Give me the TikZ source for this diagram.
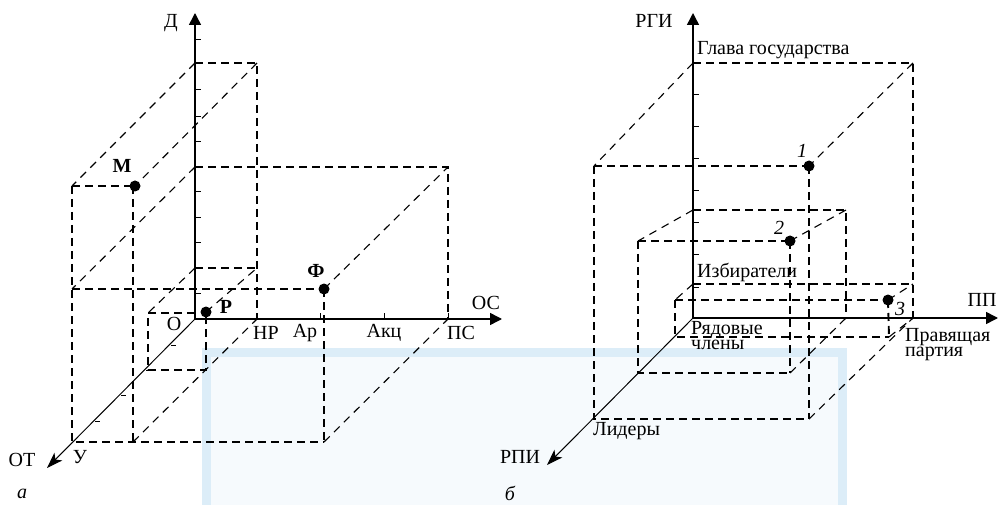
\documentclass[tikz,border=0pt]{standalone}
\usepackage{fontspec}
\setmainfont{Liberation Serif}
\usetikzlibrary{arrows.meta}
\definecolor{wmband}{RGB}{220,237,248}
\definecolor{wmfill}{RGB}{246,250,253}
\tikzset{
 ortho/.style={line width=1.9pt, dash pattern=on 8pt off 5pt},
 obl/.style={line width=1.1pt, dash pattern=on 8pt off 6pt},
 axisline/.style={line width=1.5pt, -{Triangle[length=12pt,width=12pt]}},
 oblaxis/.style={line width=1pt, -{Stealth[length=16pt,width=11pt,inset=4pt]}},
 tickmark/.style={line width=1pt},
 lbl/.style={font=\fontsize{20}{15}\selectfont, inner sep=0pt},
 blbl/.style={font=\fontsize{20}{15}\selectfont\bfseries, inner sep=0pt},
 ilbl/.style={font=\fontsize{20}{15}\selectfont\itshape, inner sep=0pt},
 dotp/.style={circle, fill, inner sep=0pt, minimum size=11pt},
}
\begin{document}
\begin{tikzpicture}[x=1pt,y=-1pt]
\useasboundingbox (0,0) rectangle (999,505);
% faint background frame
\begin{scope}
\clip (0,0) rectangle (999,505);
\fill[wmfill] (202,348) rectangle (847,520);
\draw[wmband, line width=9pt] (206.5,352.5) rectangle (842,530);
\end{scope}

% ================= LEFT (a) =================
\coordinate (O1) at (195,319);
\coordinate (Dtip) at (195,13);
\coordinate (OCtip) at (502,319);
\coordinate (OTtip) at (47,468);
\coordinate (A1) at (195,63);
\coordinate (A2) at (257,63);
\coordinate (A3) at (257,319);
\coordinate (M0) at (72,186);
\coordinate (Mv) at (133,186);
\coordinate (U) at (72,442);
\coordinate (MB) at (133,442);
\coordinate (FB) at (324,442);
\coordinate (D167) at (195,167);
\coordinate (L289) at (72,289);
\coordinate (C1) at (448,167);
\coordinate (PS) at (448,319);
\coordinate (PL) at (195,268);
\coordinate (PR) at (257,268);
\coordinate (Q1) at (148,313);
\coordinate (Q2) at (195,313);
\coordinate (Q3) at (148,370);
\coordinate (Q4) at (206,370);

\node[dotp] (M) at (135,186) {};
\node[dotp] (F) at (324,289) {};
\node[dotp] (P) at (206,312) {};

% dashed frame lines
\draw[ortho] (A1) -- (A2) -- (A3);
\draw[obl] (A1) -- (M0);
\draw[obl] (A2) -- (M.center);
\draw[ortho] (M0) -- (M.center);
\draw[ortho] (M0) -- (U) -- (FB);
\draw[ortho] (Mv) -- (MB);
\draw[obl] (D167) -- (L289);
\draw[ortho] (L289) -- (F.center);
\draw[ortho] (D167) -- (C1) -- (PS);
\draw[obl] (F.center) -- (C1);
\draw[ortho] (F.center) -- (FB);
\draw[obl] (FB) -- (PS);
\draw[obl] (MB) -- (A3);
\draw[ortho] (PL) -- (PR);
\draw[obl] (P.center) -- (PR);
\draw[obl] (PL) -- (Q1);
\draw[ortho] (Q2) -- (Q1) -- (Q3) -- (Q4) -- (P.center);

% axes
\draw[axisline] (O1) -- (Dtip);
\draw[axisline] (O1) -- (OCtip);
\draw[oblaxis] (O1) -- (OTtip);
\foreach \yy in {40,90,117,142,167,192,218,243,268,293}
  \draw[tickmark] (195,\yy) -- (201,\yy);
\foreach \xx in {257,320,384,448}
  \draw[tickmark] (\xx,319) -- (\xx,313);
\foreach \yy in {345,370,395,421}
  \draw[tickmark] ({197-(\yy-319)},\yy) -- ({202-(\yy-319)},\yy);

% labels
\node[lbl] (tD) at (171,23) {Д};
\node[blbl] (tM) at (122,166) {М};
\node[blbl] (tF) at (316,271) {Ф};
\node[blbl] (tP) at (226,307) {Р};
\node[lbl] (tO) at (174,324) {О};
\node[lbl] (tOC) at (486,303) {ОС};
\node[lbl] (tHP) at (266,333) {НР};
\node[lbl] (tAp) at (305,333) {Ар};
\node[lbl] (tAk) at (384,333) {Акц};
\node[lbl] (tPS) at (461,333) {ПС};
\node[lbl] (tOT) at (22,460) {ОТ};
\node[lbl] (tU) at (80,457) {У};
\node[ilbl] (ta) at (22,494) {а};

% ================= RIGHT (b) =================
\coordinate (O2) at (693,318);
\coordinate (RGtip) at (693,13);
\coordinate (PPtip) at (998,318);
\coordinate (RPtip) at (547,465);
\coordinate (B1) at (693,63);
\coordinate (B2) at (913,63);
\coordinate (B3) at (913,318);
\coordinate (B4) at (594,166);
\coordinate (B5) at (594,419);
\coordinate (B6) at (809,419);
\coordinate (C1r) at (693,210);
\coordinate (C2r) at (846,210);
\coordinate (C3r) at (846,318);
\coordinate (C4r) at (638,241);
\coordinate (C5r) at (638,373);
\coordinate (C6r) at (790,373);
\coordinate (E1) at (693,284);
\coordinate (E2) at (913,284);
\coordinate (E3) at (675,300);
\coordinate (E4) at (675,337);
\coordinate (E5) at (889,337);

\node[dotp] (N1) at (809,166) {};
\node[dotp] (N2) at (790,241) {};
\node[dotp] (N3) at (888,300) {};

\draw[ortho] (B1) -- (B2) -- (B3);
\draw[obl] (B1) -- (B4);
\draw[obl] (B2) -- (N1.center);
\draw[ortho] (B4) -- (N1.center);
\draw[ortho] (B4) -- (B5) -- (B6);
\draw[ortho] (N1.center) -- (B6);
\draw[obl] (B6) -- (B3);

\draw[ortho] (C1r) -- (C2r) -- (C3r);
\draw[obl] (C1r) -- (C4r);
\draw[obl] (C2r) -- (N2.center);
\draw[ortho] (C4r) -- (N2.center);
\draw[ortho] (C4r) -- (C5r) -- (C6r);
\draw[ortho] (N2.center) -- (C6r);
\draw[obl] (C6r) -- (C3r);

\draw[ortho] (E1) -- (E2);
\draw[obl] (E1) -- (E3);
\draw[obl] (N3.center) -- (E2);
\draw[ortho] (E3) -- (N3.center);
\draw[ortho] (E3) -- (E4) -- (E5);
\draw[ortho] (N3.center) -- (E5);
\draw[obl] (E5) -- (B3);

\draw[axisline] (O2) -- (RGtip);
\draw[axisline] (O2) -- (PPtip);
\draw[oblaxis] (O2) -- (RPtip);
\foreach \yy in {95,127,159,191,223,255,287}
  \draw[tickmark] (693,\yy) -- (699,\yy);

\node[lbl] (tRGI) at (654,21) {РГИ};
\node[lbl, anchor=west] (tGlava) at (697,50) {Глава государства};
\node[ilbl] (t1) at (802,151) {1};
\node[ilbl] (t2) at (779,228) {2};
\node[ilbl] (t3) at (900,309) {3};
\node[lbl, anchor=west] (tIzb) at (697,272) {Избиратели};
\node[lbl, anchor=base west] (tRyad1) at (691,334) {Рядовые};
\node[lbl, anchor=base west] (tRyad2) at (691,349) {члены};
\node[lbl, anchor=base west] (tPrav1) at (905,341) {Правящая};
\node[lbl, anchor=base west] (tPrav2) at (905,356) {партия};
\node[lbl, anchor=west] (tLid) at (593,431) {Лидеры};
\node[lbl] (tRPI) at (520,457) {РПИ};
\node[lbl] (tPP) at (982,300) {ПП};
\node[ilbl] (tb) at (510,493) {б};
\end{tikzpicture}
\end{document}
